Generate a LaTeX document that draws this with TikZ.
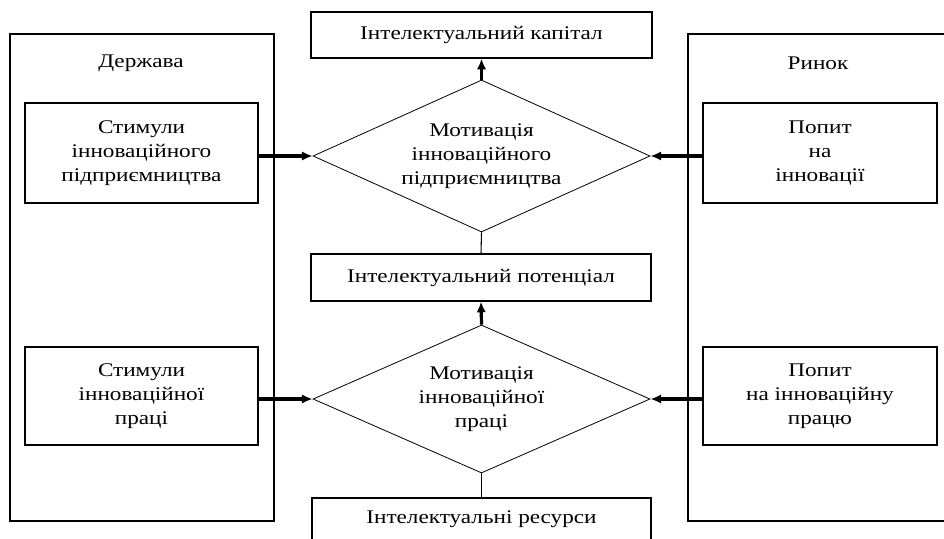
\documentclass[tikz,border=0pt]{standalone}
\usepackage{fontspec}
\setmainfont[FakeStretch=1.2]{Liberation Serif}
\usetikzlibrary{shapes.geometric,arrows.meta}
\begin{document}
\begin{tikzpicture}[x=0.75pt,y=-0.75pt,
  txt/.style={font=\fontsize{14.5}{18}\selectfont,align=center},
  box/.style={draw,line width=0.9pt,inner sep=0pt,txt},
  frame/.style={draw,line width=0.9pt,inner sep=0pt},
  dia/.style={draw,line width=0.6pt,diamond,inner sep=0pt,shape aspect=2.2,txt},
  arr/.style={line width=2.4pt,-{Latex[length=8pt,width=7pt]}},
  link/.style={line width=0.8pt}]
\clip (0,0) rectangle (944,538);
\useasboundingbox (0,0) rectangle (944,538);
\fill[white] (0,0) rectangle (944,538);
% outer frames
\node[frame,minimum width=198pt,minimum height=365.25pt] (GL) at (142,277.5) {};
\node[frame,minimum width=196.5pt,minimum height=365.25pt] (GR) at (819,277.5) {};
\node[txt] (tGL) at (141,63) {Держава};
\node[txt] (tGR) at (818,63) {Ринок};
% inner boxes
\node[box,minimum width=174.75pt,minimum height=75pt] (L1) at (141.5,153) {Стимули\\інноваційного\\підприємництва};
\node[box,minimum width=174.75pt,minimum height=73.5pt] (L2) at (141.5,396) {Стимули\\інноваційної\\праці};
\node[box,minimum width=175.5pt,minimum height=75pt] (R1) at (820,153) {Попит\\на\\інновації};
\node[box,minimum width=175.5pt,minimum height=73.5pt] (R2) at (820,396) {Попит\\на інноваційну\\працю};
% central column
\node[box,minimum width=255.75pt,minimum height=34.5pt] (K) at (481.5,35) {Інтелектуальний капітал};
\node[dia,minimum width=252.75pt,minimum height=114pt] (D1) at (481.5,156) {Мотивація\\інноваційного\\підприємництва};
\node[box,minimum width=255pt,minimum height=35.25pt] (P) at (481,277.5) {Інтелектуальний потенціал};
\node[dia,minimum width=252.75pt,minimum height=111pt] (D2) at (481.5,399) {Мотивація\\інноваційної\\праці};
\node[box,minimum width=254.25pt,minimum height=46.5pt] (RS) at (481.5,529) {};
\node[txt] (tRS) at (481.5,519) {Інтелектуальні ресурси};
% connectors
\draw[arr] (L1.east |- D1.west) -- (D1.west);
\draw[arr] (L2.east |- D2.west) -- (D2.west);
\draw[arr] (R1.west |- D1.east) -- (D1.east);
\draw[arr] (R2.west |- D2.east) -- (D2.east);
\draw[arr] (D1.north) -- (K.south);
\draw[arr] (D2.north) -- (P.south);
\draw[link] (D1.south) -- (P.north);
\draw[link] (D2.south) -- (RS.north);
\end{tikzpicture}
\end{document}
